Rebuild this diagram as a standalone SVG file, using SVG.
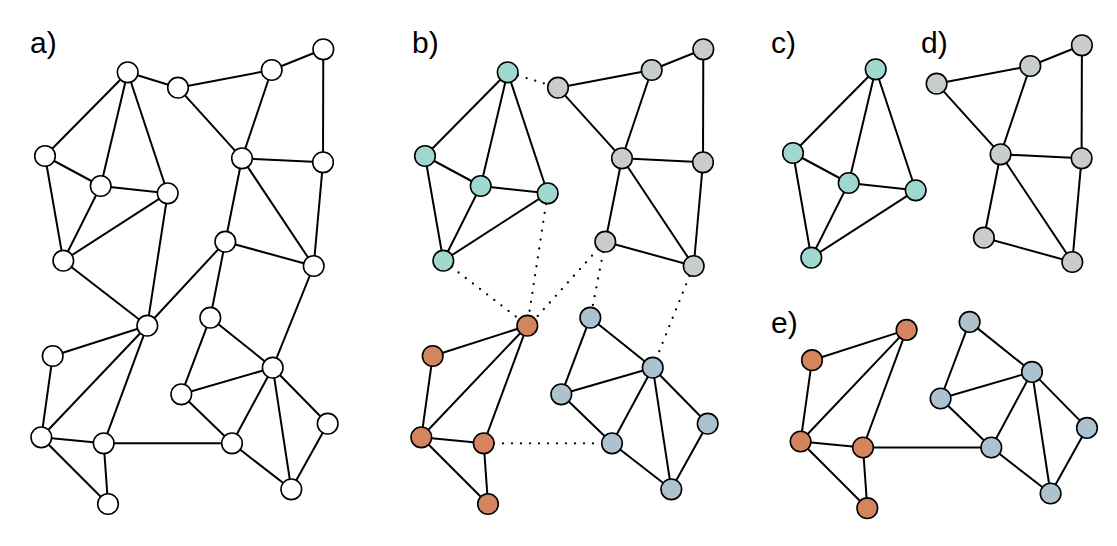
<svg xmlns="http://www.w3.org/2000/svg" width="1117" height="546" viewBox="0 0 1117 546">
<style>
.e{stroke:#000;stroke-width:2;fill:none}
.d{stroke:#000;stroke-width:2.3;fill:none;stroke-dasharray:0 9;stroke-linecap:round}
.n{stroke:#000;stroke-width:1.6}
.w{fill:#fff}.t{fill:#9fd8cf}.g{fill:#c8cccd}.o{fill:#d4845f}.b{fill:#adc2cf}
.lbl{font-family:"Liberation Sans",Arial,sans-serif;font-size:30px;fill:#000}
</style>
<rect width="1117" height="546" fill="#fff"/>
<g id="labels">
<text class="lbl" x="30" y="53">a)</text>
<text class="lbl" x="412" y="53">b)</text>
<text class="lbl" x="771" y="53">c)</text>
<text class="lbl" x="921" y="53">d)</text>
<text class="lbl" x="771" y="333">e)</text>
</g>
<g id="connectors">
<g id="edges-a" class="e">
<line x1="127.7" y1="72.3" x2="178" y2="87.7"/>
<line x1="178" y1="87.7" x2="271.7" y2="70"/>
<line x1="271.7" y1="70" x2="323.3" y2="49.3"/>
<line x1="323.3" y1="49.3" x2="323" y2="162.3"/>
<line x1="127.7" y1="72.3" x2="45" y2="156"/>
<line x1="127.7" y1="72.3" x2="100.7" y2="186"/>
<line x1="127.7" y1="72.3" x2="167.7" y2="193.3"/>
<line x1="45" y1="156" x2="100.7" y2="186"/>
<line x1="45" y1="156" x2="63.3" y2="260.7"/>
<line x1="100.7" y1="186" x2="167.7" y2="193.3"/>
<line x1="100.7" y1="186" x2="63.3" y2="260.7"/>
<line x1="167.7" y1="193.3" x2="63.3" y2="260.7"/>
<line x1="178" y1="87.7" x2="242" y2="158.3"/>
<line x1="271.7" y1="70" x2="242" y2="158.3"/>
<line x1="242" y1="158.3" x2="323" y2="162.3"/>
<line x1="242" y1="158.3" x2="225.3" y2="241.7"/>
<line x1="242" y1="158.3" x2="313.7" y2="266"/>
<line x1="323" y1="162.3" x2="313.7" y2="266"/>
<line x1="225.3" y1="241.7" x2="313.7" y2="266"/>
<line x1="63.3" y1="260.7" x2="147.3" y2="325.7"/>
<line x1="167.7" y1="193.3" x2="147.3" y2="325.7"/>
<line x1="225.3" y1="241.7" x2="147.3" y2="325.7"/>
<line x1="225.3" y1="241.7" x2="210.3" y2="317.7"/>
<line x1="313.7" y1="266" x2="272.7" y2="367.7"/>
<line x1="147.3" y1="325.7" x2="52.7" y2="356"/>
<line x1="147.3" y1="325.7" x2="41.3" y2="437.3"/>
<line x1="147.3" y1="325.7" x2="103.7" y2="443.3"/>
<line x1="52.7" y1="356" x2="41.3" y2="437.3"/>
<line x1="41.3" y1="437.3" x2="103.7" y2="443.3"/>
<line x1="41.3" y1="437.3" x2="108" y2="504"/>
<line x1="103.7" y1="443.3" x2="108" y2="504"/>
<line x1="103.7" y1="443.3" x2="232" y2="443.3"/>
<line x1="210.3" y1="317.7" x2="272.7" y2="367.7"/>
<line x1="210.3" y1="317.7" x2="181.3" y2="394.3"/>
<line x1="272.7" y1="367.7" x2="181.3" y2="394.3"/>
<line x1="181.3" y1="394.3" x2="232" y2="443.3"/>
<line x1="272.7" y1="367.7" x2="232" y2="443.3"/>
<line x1="272.7" y1="367.7" x2="291.3" y2="489.3"/>
<line x1="272.7" y1="367.7" x2="327.7" y2="423.7"/>
<line x1="327.7" y1="423.7" x2="291.3" y2="489.3"/>
<line x1="232" y1="443.3" x2="291.3" y2="489.3"/>
</g>
<g id="edges-b" class="e">
<line x1="558" y1="87.7" x2="651.7" y2="70"/>
<line x1="651.7" y1="70" x2="703.3" y2="49.3"/>
<line x1="703.3" y1="49.3" x2="703" y2="162.3"/>
<line x1="507.7" y1="72.3" x2="425" y2="156"/>
<line x1="507.7" y1="72.3" x2="480.7" y2="186"/>
<line x1="507.7" y1="72.3" x2="547.7" y2="193.3"/>
<line x1="425" y1="156" x2="480.7" y2="186"/>
<line x1="425" y1="156" x2="443.3" y2="260.7"/>
<line x1="480.7" y1="186" x2="547.7" y2="193.3"/>
<line x1="480.7" y1="186" x2="443.3" y2="260.7"/>
<line x1="547.7" y1="193.3" x2="443.3" y2="260.7"/>
<line x1="558" y1="87.7" x2="622" y2="158.3"/>
<line x1="651.7" y1="70" x2="622" y2="158.3"/>
<line x1="622" y1="158.3" x2="703" y2="162.3"/>
<line x1="622" y1="158.3" x2="605.3" y2="241.7"/>
<line x1="622" y1="158.3" x2="693.7" y2="266"/>
<line x1="703" y1="162.3" x2="693.7" y2="266"/>
<line x1="605.3" y1="241.7" x2="693.7" y2="266"/>
<line x1="527.3" y1="325.7" x2="432.7" y2="356"/>
<line x1="527.3" y1="325.7" x2="421.3" y2="437.3"/>
<line x1="527.3" y1="325.7" x2="483.7" y2="443.3"/>
<line x1="432.7" y1="356" x2="421.3" y2="437.3"/>
<line x1="421.3" y1="437.3" x2="483.7" y2="443.3"/>
<line x1="421.3" y1="437.3" x2="488" y2="504"/>
<line x1="483.7" y1="443.3" x2="488" y2="504"/>
<line x1="590.3" y1="317.7" x2="652.7" y2="367.7"/>
<line x1="590.3" y1="317.7" x2="561.3" y2="394.3"/>
<line x1="652.7" y1="367.7" x2="561.3" y2="394.3"/>
<line x1="561.3" y1="394.3" x2="612" y2="443.3"/>
<line x1="652.7" y1="367.7" x2="612" y2="443.3"/>
<line x1="652.7" y1="367.7" x2="671.3" y2="489.3"/>
<line x1="652.7" y1="367.7" x2="707.7" y2="423.7"/>
<line x1="707.7" y1="423.7" x2="671.3" y2="489.3"/>
<line x1="612" y1="443.3" x2="671.3" y2="489.3"/>
</g>
<g id="edges-b-dotted" class="d">
<line x1="518" y1="75.5" x2="548" y2="84.6"/>
<line x1="451.5" y1="267" x2="519" y2="319"/>
<line x1="546" y1="204" x2="529" y2="315"/>
<line x1="598" y1="249" x2="535" y2="319"/>
<line x1="603.3" y1="252" x2="592.5" y2="307"/>
<line x1="689.5" y1="276" x2="656.5" y2="358"/>
<line x1="494" y1="443.3" x2="602" y2="443.3"/>
</g>
<g id="edges-c" class="e">
<line x1="875.7" y1="69.3" x2="793" y2="153"/>
<line x1="875.7" y1="69.3" x2="848.7" y2="183"/>
<line x1="875.7" y1="69.3" x2="915.7" y2="190.3"/>
<line x1="793" y1="153" x2="848.7" y2="183"/>
<line x1="793" y1="153" x2="811.3" y2="257.7"/>
<line x1="848.7" y1="183" x2="915.7" y2="190.3"/>
<line x1="848.7" y1="183" x2="811.3" y2="257.7"/>
<line x1="915.7" y1="190.3" x2="811.3" y2="257.7"/>
</g>
<g id="edges-d" class="e">
<line x1="936.6" y1="83.7" x2="1030.3" y2="66"/>
<line x1="1030.3" y1="66" x2="1081.9" y2="45.3"/>
<line x1="1081.9" y1="45.3" x2="1081.6" y2="158.3"/>
<line x1="936.6" y1="83.7" x2="1000.6" y2="154.3"/>
<line x1="1030.3" y1="66" x2="1000.6" y2="154.3"/>
<line x1="1000.6" y1="154.3" x2="1081.6" y2="158.3"/>
<line x1="1000.6" y1="154.3" x2="983.9" y2="237.7"/>
<line x1="1000.6" y1="154.3" x2="1072.3" y2="262"/>
<line x1="1081.6" y1="158.3" x2="1072.3" y2="262"/>
<line x1="983.9" y1="237.7" x2="1072.3" y2="262"/>
</g>
<g id="edges-e" class="e">
<line x1="906.6" y1="329.9" x2="812" y2="360.2"/>
<line x1="906.6" y1="329.9" x2="800.6" y2="441.5"/>
<line x1="906.6" y1="329.9" x2="863" y2="447.5"/>
<line x1="812" y1="360.2" x2="800.6" y2="441.5"/>
<line x1="800.6" y1="441.5" x2="863" y2="447.5"/>
<line x1="800.6" y1="441.5" x2="867.3" y2="508.2"/>
<line x1="863" y1="447.5" x2="867.3" y2="508.2"/>
<line x1="863" y1="447.5" x2="991.3" y2="447.5"/>
<line x1="969.6" y1="321.9" x2="1032" y2="371.9"/>
<line x1="969.6" y1="321.9" x2="940.6" y2="398.5"/>
<line x1="1032" y1="371.9" x2="940.6" y2="398.5"/>
<line x1="940.6" y1="398.5" x2="991.3" y2="447.5"/>
<line x1="1032" y1="371.9" x2="991.3" y2="447.5"/>
<line x1="1032" y1="371.9" x2="1050.6" y2="493.5"/>
<line x1="1032" y1="371.9" x2="1087" y2="427.9"/>
<line x1="1087" y1="427.9" x2="1050.6" y2="493.5"/>
<line x1="991.3" y1="447.5" x2="1050.6" y2="493.5"/>
</g>
</g>
<g id="nodes-a" class="n">
<g id="a1"><circle class="w" cx="127.7" cy="72.3" r="10.3"/></g>
<g id="a2"><circle class="w" cx="178" cy="87.7" r="10.3"/></g>
<g id="a3"><circle class="w" cx="271.7" cy="70" r="10.3"/></g>
<g id="a4"><circle class="w" cx="323.3" cy="49.3" r="10.3"/></g>
<g id="a5"><circle class="w" cx="45" cy="156" r="10.3"/></g>
<g id="a6"><circle class="w" cx="100.7" cy="186" r="10.3"/></g>
<g id="a7"><circle class="w" cx="167.7" cy="193.3" r="10.3"/></g>
<g id="a8"><circle class="w" cx="242" cy="158.3" r="10.3"/></g>
<g id="a9"><circle class="w" cx="323" cy="162.3" r="10.3"/></g>
<g id="a10"><circle class="w" cx="63.3" cy="260.7" r="10.3"/></g>
<g id="a11"><circle class="w" cx="225.3" cy="241.7" r="10.3"/></g>
<g id="a12"><circle class="w" cx="313.7" cy="266" r="10.3"/></g>
<g id="a13"><circle class="w" cx="147.3" cy="325.7" r="10.3"/></g>
<g id="a14"><circle class="w" cx="210.3" cy="317.7" r="10.3"/></g>
<g id="a15"><circle class="w" cx="52.7" cy="356" r="10.3"/></g>
<g id="a16"><circle class="w" cx="272.7" cy="367.7" r="10.3"/></g>
<g id="a17"><circle class="w" cx="181.3" cy="394.3" r="10.3"/></g>
<g id="a18"><circle class="w" cx="327.7" cy="423.7" r="10.3"/></g>
<g id="a19"><circle class="w" cx="41.3" cy="437.3" r="10.3"/></g>
<g id="a20"><circle class="w" cx="103.7" cy="443.3" r="10.3"/></g>
<g id="a21"><circle class="w" cx="232" cy="443.3" r="10.3"/></g>
<g id="a22"><circle class="w" cx="291.3" cy="489.3" r="10.3"/></g>
<g id="a23"><circle class="w" cx="108" cy="504" r="10.3"/></g>
</g>
<g id="nodes-b" class="n">
<g id="b1"><circle class="t" cx="507.7" cy="72.3" r="10.3"/></g>
<g id="b2"><circle class="g" cx="558" cy="87.7" r="10.3"/></g>
<g id="b3"><circle class="g" cx="651.7" cy="70" r="10.3"/></g>
<g id="b4"><circle class="g" cx="703.3" cy="49.3" r="10.3"/></g>
<g id="b5"><circle class="t" cx="425" cy="156" r="10.3"/></g>
<g id="b6"><circle class="t" cx="480.7" cy="186" r="10.3"/></g>
<g id="b7"><circle class="t" cx="547.7" cy="193.3" r="10.3"/></g>
<g id="b8"><circle class="g" cx="622" cy="158.3" r="10.3"/></g>
<g id="b9"><circle class="g" cx="703" cy="162.3" r="10.3"/></g>
<g id="b10"><circle class="t" cx="443.3" cy="260.7" r="10.3"/></g>
<g id="b11"><circle class="g" cx="605.3" cy="241.7" r="10.3"/></g>
<g id="b12"><circle class="g" cx="693.7" cy="266" r="10.3"/></g>
<g id="b13"><circle class="o" cx="527.3" cy="325.7" r="10.3"/></g>
<g id="b14"><circle class="b" cx="590.3" cy="317.7" r="10.3"/></g>
<g id="b15"><circle class="o" cx="432.7" cy="356" r="10.3"/></g>
<g id="b16"><circle class="b" cx="652.7" cy="367.7" r="10.3"/></g>
<g id="b17"><circle class="b" cx="561.3" cy="394.3" r="10.3"/></g>
<g id="b18"><circle class="b" cx="707.7" cy="423.7" r="10.3"/></g>
<g id="b19"><circle class="o" cx="421.3" cy="437.3" r="10.3"/></g>
<g id="b20"><circle class="o" cx="483.7" cy="443.3" r="10.3"/></g>
<g id="b21"><circle class="b" cx="612" cy="443.3" r="10.3"/></g>
<g id="b22"><circle class="b" cx="671.3" cy="489.3" r="10.3"/></g>
<g id="b23"><circle class="o" cx="488" cy="504" r="10.3"/></g>
</g>
<g id="nodes-c" class="n">
<g id="c1"><circle class="t" cx="875.7" cy="69.3" r="10.3"/></g>
<g id="c5"><circle class="t" cx="793" cy="153" r="10.3"/></g>
<g id="c6"><circle class="t" cx="848.7" cy="183" r="10.3"/></g>
<g id="c7"><circle class="t" cx="915.7" cy="190.3" r="10.3"/></g>
<g id="c10"><circle class="t" cx="811.3" cy="257.7" r="10.3"/></g>
</g>
<g id="nodes-d" class="n">
<g id="d2"><circle class="g" cx="936.6" cy="83.7" r="10.3"/></g>
<g id="d3"><circle class="g" cx="1030.3" cy="66" r="10.3"/></g>
<g id="d4"><circle class="g" cx="1081.9" cy="45.3" r="10.3"/></g>
<g id="d8"><circle class="g" cx="1000.6" cy="154.3" r="10.3"/></g>
<g id="d9"><circle class="g" cx="1081.6" cy="158.3" r="10.3"/></g>
<g id="d11"><circle class="g" cx="983.9" cy="237.7" r="10.3"/></g>
<g id="d12"><circle class="g" cx="1072.3" cy="262" r="10.3"/></g>
</g>
<g id="nodes-e" class="n">
<g id="e13"><circle class="o" cx="906.6" cy="329.9" r="10.3"/></g>
<g id="e15"><circle class="o" cx="812" cy="360.2" r="10.3"/></g>
<g id="e19"><circle class="o" cx="800.6" cy="441.5" r="10.3"/></g>
<g id="e20"><circle class="o" cx="863" cy="447.5" r="10.3"/></g>
<g id="e23"><circle class="o" cx="867.3" cy="508.2" r="10.3"/></g>
<g id="e14"><circle class="b" cx="969.6" cy="321.9" r="10.3"/></g>
<g id="e16"><circle class="b" cx="1032" cy="371.9" r="10.3"/></g>
<g id="e17"><circle class="b" cx="940.6" cy="398.5" r="10.3"/></g>
<g id="e18"><circle class="b" cx="1087" cy="427.9" r="10.3"/></g>
<g id="e21"><circle class="b" cx="991.3" cy="447.5" r="10.3"/></g>
<g id="e22"><circle class="b" cx="1050.6" cy="493.5" r="10.3"/></g>
</g>
</svg>
